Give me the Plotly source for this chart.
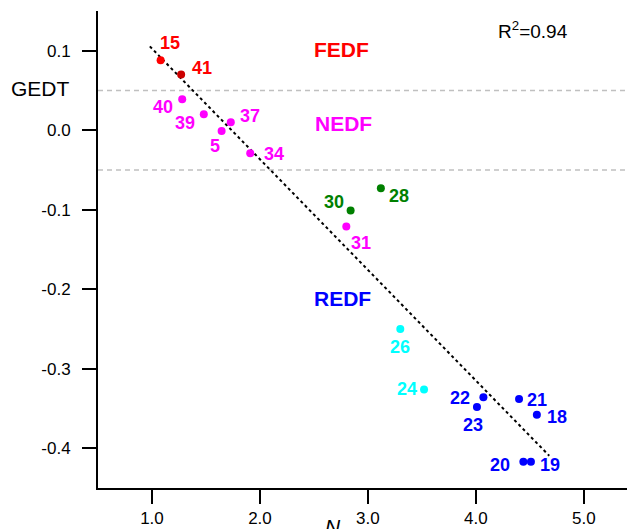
import plotly.graph_objects as go

# ---- data ----
ids = ["15", "41", "40", "39", "5", "37", "34", "30", "28", "31",
       "26", "24", "22", "23", "21", "18", "20", "19"]
n_vals = [1.08, 1.27, 1.28, 1.48, 1.645, 1.73, 1.91, 2.84, 3.12, 2.80,
          3.30, 3.52, 4.07, 4.01, 4.40, 4.565, 4.44, 4.51]
gedt_vals = [0.088, 0.070, 0.039, 0.020, -0.001, 0.010, -0.029, -0.101, -0.073, -0.121,
             -0.250, -0.326, -0.336, -0.348, -0.338, -0.358, -0.417, -0.417]
groups = ["red", "darkred", "magenta", "magenta", "magenta", "magenta", "magenta",
          "green", "green", "magenta", "cyan", "cyan", "blue", "blue", "blue",
          "blue", "blue", "blue"]

fit_x = [0.98, 4.68]
fit_y = [0.1055, -0.4095]

thresholds = [0.05, -0.05]
region_names = ["FEDF", "NEDF", "REDF"]
region_x = [2.76, 2.77, 2.766]
region_y = [0.102, 0.0084, -0.212]

x_ticks = [1.0, 2.0, 3.0, 4.0, 5.0]
x_ticktext = ["1.0", "2.0", "3.0", "4.0", "5.0"]
y_ticks = [0.1, 0.0, -0.1, -0.2, -0.3, -0.4]
y_ticktext = ["0.1", "0.0", "-0.1", "-0.2", "-0.3", "-0.4"]

r2_text = "R<sup>2</sup>=0.94"

# ---- styles ----
marker_col = {"red": "#ff0000", "darkred": "#cc0000", "magenta": "#ff00ff",
              "green": "#008000", "cyan": "#00ffff", "blue": "#0000ff"}
label_col = {"red": "#ff0000", "darkred": "#ff0000", "magenta": "#ff00ff",
             "green": "#008000", "cyan": "#00ffff", "blue": "#0000ff"}
region_col = ["#ff0000", "#ff00ff", "#0000ff"]
# label pixel offsets (dx, dy with dy positive downward on screen)
offsets = {"15": (9, -17), "41": (21, -7), "40": (-19, 8), "39": (-19, 9),
           "5": (-7, 15), "37": (19, -6), "34": (24, 1), "30": (-17, -9),
           "28": (18, 8), "31": (15, 17), "26": (0, 18), "24": (-17, 0),
           "22": (-23, 1), "23": (-4, 18), "21": (18, 1), "18": (20, 2),
           "20": (-23, 3), "19": (19, 3)}

FONT = "Liberation Sans, Arial, sans-serif"

fig = go.Figure()

for t in thresholds:
    fig.add_shape(type="line", xref="paper", x0=0, x1=1, yref="y", y0=t, y1=t,
                  line=dict(color="#c0c0c0", width=1.5, dash="5px,4px"), layer="below")

fig.add_trace(go.Scatter(x=fit_x, y=fit_y, mode="lines",
                         line=dict(color="black", width=2, dash="3px,3px"),
                         showlegend=False, hoverinfo="skip"))

for g in ["red", "darkred", "magenta", "green", "cyan", "blue"]:
    xs = [n_vals[i] for i in range(len(ids)) if groups[i] == g]
    ys = [gedt_vals[i] for i in range(len(ids)) if groups[i] == g]
    fig.add_trace(go.Scatter(x=xs, y=ys, mode="markers",
                             marker=dict(color=marker_col[g], size=8, line=dict(width=0)),
                             showlegend=False))

annotations = []
for i, lab in enumerate(ids):
    dx, dy = offsets[lab]
    annotations.append(dict(x=n_vals[i], y=gedt_vals[i], xref="x", yref="y",
                            text="<b>%s</b>" % lab, showarrow=False,
                            xshift=dx, yshift=-dy,
                            font=dict(family=FONT, size=18, color=label_col[groups[i]])))

for name, rx, ry, c in zip(region_names, region_x, region_y, region_col):
    annotations.append(dict(x=rx, y=ry, xref="x", yref="y", text="<b>%s</b>" % name,
                            showarrow=False, font=dict(family=FONT, size=21, color=c)))

annotations.append(dict(x=4.53, y=0.1265, xref="x", yref="y", text=r2_text,
                        showarrow=False, font=dict(family=FONT, size=19, color="black")))
annotations.append(dict(x=0, y=0.052, xref="paper", yref="y", text="GEDT",
                        xanchor="right", xshift=-26, showarrow=False,
                        font=dict(family=FONT, size=21, color="black")))
annotations.append(dict(x=2.673, y=0, xref="x", yref="paper", text="<i>N</i>",
                        xanchor="center", yanchor="top", yshift=-25, showarrow=False,
                        font=dict(family=FONT, size=21, color="black")))

fig.update_layout(
    width=627, height=529,
    margin=dict(l=98, r=0, t=11, b=41),
    paper_bgcolor="white", plot_bgcolor="white",
    font=dict(family=FONT, size=17, color="black"),
    annotations=annotations,
    showlegend=False,
)
fig.update_xaxes(range=[0.5, 5.4], showline=True, linecolor="black", linewidth=2,
                 ticks="outside", ticklen=14, tickwidth=2, tickcolor="black",
                 tickvals=x_ticks, ticktext=x_ticktext, showgrid=False, zeroline=False,
                 tickfont=dict(size=17))
fig.update_yaxes(range=[-0.45, 0.15], showline=True, linecolor="black", linewidth=2,
                 ticks="outside", ticklen=14, tickwidth=2, tickcolor="black",
                 tickvals=y_ticks, ticktext=y_ticktext, showgrid=False, zeroline=False,
                 tickfont=dict(size=17), ticklabelstandoff=8)

fig.write_html(
    "out.html",
    config={"displayModeBar": False},
    post_script="document.body.style.margin='0';document.body.style.overflow='hidden';",
)
